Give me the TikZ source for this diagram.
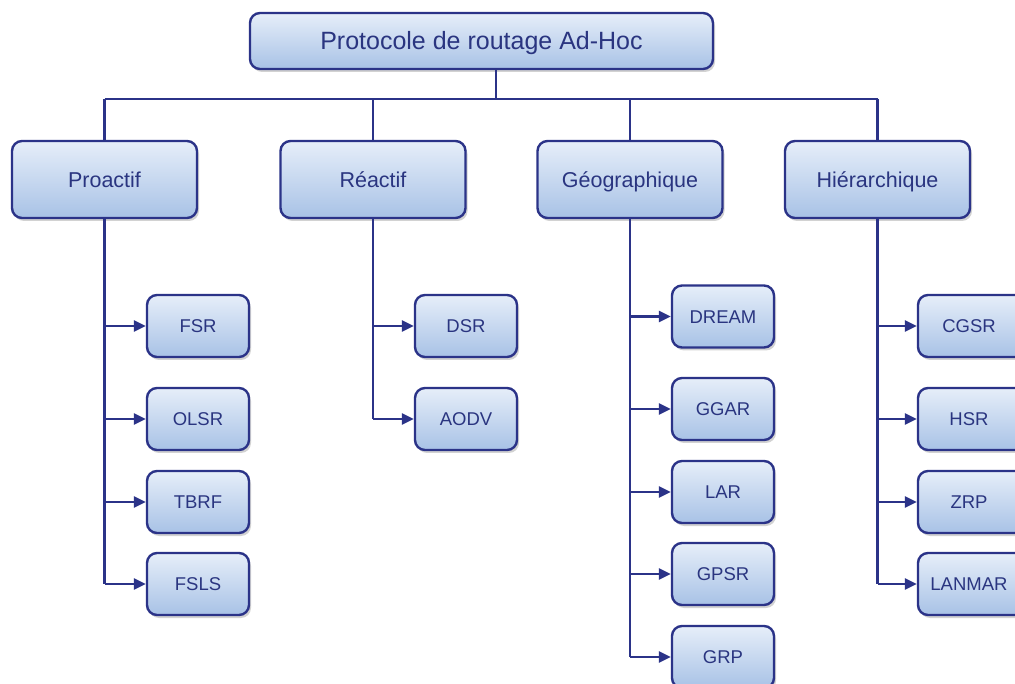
\documentclass[tikz,border=0pt]{standalone}
\usepackage{fontspec}
\setmainfont{Liberation Sans}
\usetikzlibrary{arrows.meta,shadows}
\definecolor{navy}{HTML}{2B3388}
\definecolor{txt}{HTML}{2A3580}
\definecolor{ftop}{HTML}{E6EEF9}
\definecolor{fbot}{HTML}{A8C2E6}
\tikzset{
  box/.style={draw=navy, line width=2.4pt, rounded corners=10pt, top color=ftop, bottom color=fbot,
    text=txt, drop shadow={opacity=0.35, shadow xshift=2pt, shadow yshift=-3pt}, inner sep=0pt,
    text depth=0pt},
  topbox/.style={box, minimum width=463pt, minimum height=56pt, font=\fontsize{25}{29}\selectfont, text height=18pt},
  catbox/.style={box, minimum width=185pt, minimum height=77pt, font=\fontsize{21.5}{25}\selectfont, text height=15.5pt},
  leafbox/.style={box, minimum width=102pt, minimum height=62pt, font=\fontsize{18.5}{22}\selectfont, text height=13.3pt},
  conn/.style={draw=navy, line width=2.4pt},
  arr/.style={conn, -{Triangle[length=12pt,width=11pt]}},
}
\begin{document}
\begin{tikzpicture}[x=1pt,y=-1pt]
\useasboundingbox (0,0) rectangle (1015,684);
\clip (0,0) rectangle (1015,684);
\fill[white] (0,0) rectangle (1015,684);
% top
\node[topbox] (top) at (481.5,41) {Protocole de routage Ad-Hoc};
% categories
\node[catbox] (pro) at (104.5,179.5) {Proactif};
\node[catbox] (rea) at (373,179.5) {Réactif};
\node[catbox] (geo) at (630,179.5) {Géographique};
\node[catbox] (hie) at (877.5,179.5) {Hiérarchique};
% bus
\coordinate (tj) at (496,99);
\coordinate (bl) at (104.5,99);
\coordinate (br) at (877.5,99);
\draw[conn] (top.south -| tj) -- (tj);
\draw[conn] (bl) -- (br);
\draw[conn] (bl) -- (pro.north);
\draw[conn] (rea.north |- tj) -- (rea.north);
\draw[conn] (geo.north |- tj) -- (geo.north);
\draw[conn] (br) -- (hie.north);
% proactif children
\node[leafbox] (fsr) at (198,326) {FSR};
\node[leafbox] (olsr) at (198,419) {OLSR};
\node[leafbox] (tbrf) at (198,502) {TBRF};
\node[leafbox] (fsls) at (198,584) {FSLS};
% reactif children
\node[leafbox] (dsr) at (466,326) {DSR};
\node[leafbox] (aodv) at (466,419) {AODV};
% geo children
\node[leafbox] (dream) at (723,316.5) {DREAM};
\node[leafbox] (ggar) at (723,409) {GGAR};
\node[leafbox] (lar) at (723,492) {LAR};
\node[leafbox] (gpsr) at (723,574) {GPSR};
\node[leafbox] (grp) at (723,657) {GRP};
% hier children
\node[leafbox, minimum width=112pt] (cgsr) at (974,326) {\hspace*{-10pt}CGSR};
\node[leafbox, minimum width=112pt] (hsr) at (974,419) {\hspace*{-10pt}HSR};
\node[leafbox, minimum width=112pt] (zrp) at (974,502) {\hspace*{-10pt}ZRP};
\node[leafbox, minimum width=112pt] (lanmar) at (974,584) {\hspace*{-10pt}LANMAR};
% trunks
\draw[conn] (pro.south) -- (fsls.west -| pro.south);
\draw[conn] (rea.south) -- (aodv.west -| rea.south);
\draw[conn] (geo.south) -- (grp.west -| geo.south);
\draw[conn] (hie.south) -- (lanmar.west -| hie.south);
% arrows
\foreach \c in {fsr,olsr,tbrf,fsls} \draw[arr] (\c.west -| pro.south) -- (\c.west);
\foreach \c in {dsr,aodv} \draw[arr] (\c.west -| rea.south) -- (\c.west);
\foreach \c in {dream,ggar,lar,gpsr,grp} \draw[arr] (\c.west -| geo.south) -- (\c.west);
\foreach \c in {cgsr,hsr,zrp,lanmar} \draw[arr] (\c.west -| hie.south) -- (\c.west);
\end{tikzpicture}
\end{document}
